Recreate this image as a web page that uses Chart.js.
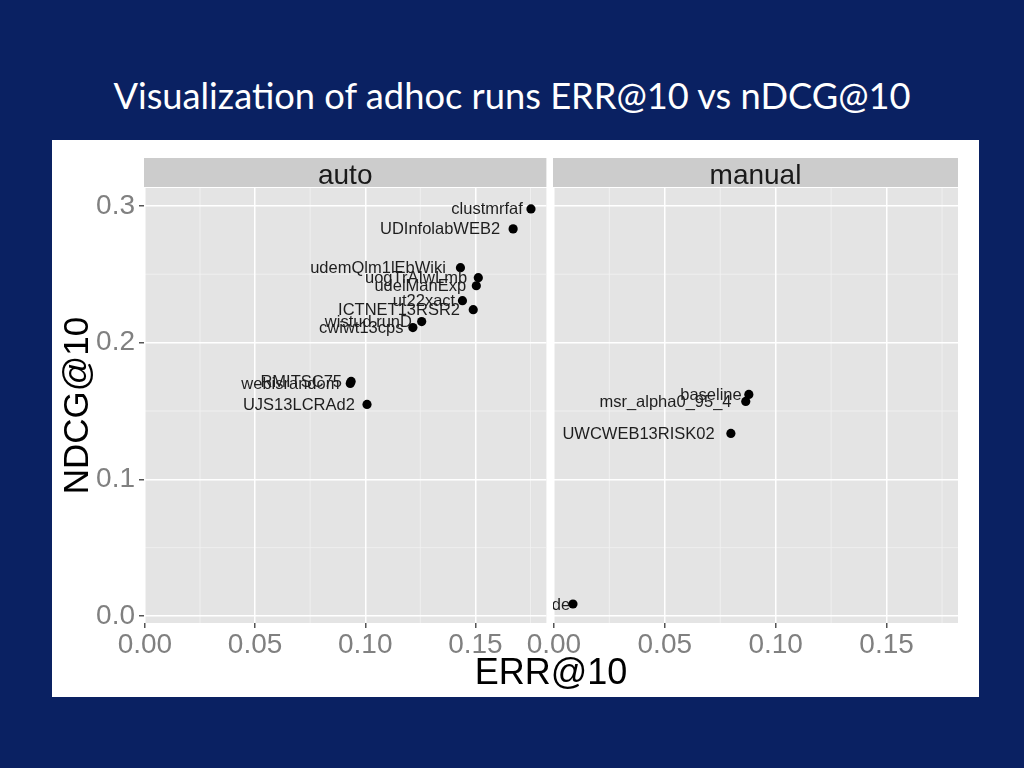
<!DOCTYPE html>
<html>
<head>
<meta charset="utf-8">
<script src="https://cdn.jsdelivr.net/npm/chart.js@4.4.1/dist/chart.umd.min.js"></script>
<style>
  html, body { margin: 0; padding: 0; }
  body { width: 1024px; height: 768px; background: #0a2162; position: relative; overflow: hidden; }
  #title { position: absolute; left: 0; width: 1024px; text-align: center; color: #ffffff;
           font-family: Lato, "Open Sans", sans-serif; white-space: nowrap; }
  #plotbox { position: absolute; left: 52px; top: 140px; width: 927px; height: 557px; background: #ffffff; }
  #xtitle { position: absolute; left: 351px; width: 400px; top: 654px; text-align: center;
            font-family: "Liberation Sans", Arial, sans-serif; font-size: 36px; line-height: 36px; color: #000; }
</style>
</head>
<body>
<div id="title">Visualization of adhoc runs ERR@10 vs nDCG@10</div>
<div id="plotbox"></div>
<div style="position:absolute;left:52px;top:140px;width:499px;height:557px;"><canvas id="cA" style="position:absolute;left:0;top:0"></canvas></div>
<div style="position:absolute;left:500px;top:140px;width:479px;height:557px;"><canvas id="cB" style="position:absolute;left:0;top:0"></canvas></div>
<div id="xtitle">ERR@10</div>
<script>
// ---- data ----
const panels = ['auto', 'manual'];
const autoRuns = ['clustmrfaf','UDInfolabWEB2','udemQlm1lEbWiki','uogTrAIwLmb','udelManExp','ut22xact','ICTNET13RSR2','wistud.runD','cwiwt13cps','RMITSC75','webisrandom','UJS13LCRAd2'];
const autoERR  = [0.1752,0.1671,0.1432,0.1513,0.1504,0.1441,0.1490,0.1256,0.1216,0.0936,0.0932,0.1008];
const autoNDCG = [0.2978,0.2832,0.2548,0.2475,0.2416,0.2307,0.2241,0.2154,0.2110,0.1716,0.1701,0.1548];
const manualRuns = ['baseline','msr_alpha0_95_4','UWCWEB13RISK02','de'];
const manualERR  = [0.0879,0.0865,0.0798,0.0086];
const manualNDCG = [0.1621,0.1570,0.1336,0.0088];
const xTicks = [0.00, 0.05, 0.10, 0.15];
const xTickLabels = ['0.00','0.05','0.10','0.15'];
const yTicks = [0.0, 0.1, 0.2, 0.3];
const yTickLabels = ['0.0','0.1','0.2','0.3'];
const xMinor = [0.025, 0.075, 0.125, 0.175];
const yMinor = [0.05, 0.15, 0.25];
const xRange = [-0.0004, 0.1822];
const yRange = [-0.0051, 0.3131];
const xTitle = 'ERR@10';
const yTitle = 'NDCG@10';

// ---- title sizing ----
(function(){
  const t = document.getElementById('title');
  const c = document.createElement('canvas').getContext('2d');
  c.font = '40px Lato';
  const w = c.measureText(t.textContent).width;
  const fs = 40 * 799 / w;
  t.style.fontSize = fs + 'px';
  t.style.lineHeight = fs + 'px';
  const contentH = 1.2 * fs;
  t.style.top = (109 - ((fs - contentH)/2 + 0.987*fs)) + 'px';
})();

const PANEL_BG = '#e4e4e4';
const STRIP_BG = '#cccccc';
const TICK_COLOR = '#808080';
const FONT = '"Liberation Sans", Arial, sans-serif';

const facetPlugin = {
  id: 'facet',
  beforeDraw(chart, args, opts) {
    const {ctx, chartArea: a, scales: {x, y}} = chart;
    ctx.save();
    ctx.fillStyle = PANEL_BG;
    ctx.fillRect(a.left, a.top, a.right - a.left, a.bottom - a.top);
    ctx.fillStyle = STRIP_BG;
    ctx.fillRect(a.left, a.top - 30, a.right - a.left, 29);
    ctx.fillStyle = '#1a1a1a';
    ctx.font = '28px ' + FONT;
    ctx.textAlign = 'center';
    ctx.textBaseline = 'alphabetic';
    ctx.fillText(opts.label, (a.left + a.right) / 2, a.top - 4);
    ctx.strokeStyle = '#f2f2f2';
    ctx.lineWidth = 0.8;
    ctx.beginPath();
    xMinor.forEach(v => { const px = x.getPixelForValue(v); if (px >= a.left && px <= a.right) { ctx.moveTo(px, a.top); ctx.lineTo(px, a.bottom); } });
    yMinor.forEach(v => { const py = y.getPixelForValue(v); ctx.moveTo(a.left, py); ctx.lineTo(a.right, py); });
    ctx.stroke();
    ctx.restore();
  },
  afterDatasetsDraw(chart, args, opts) {
    const {ctx, chartArea: a} = chart;
    const meta = chart.getDatasetMeta(0);
    ctx.save();
    ctx.beginPath();
    ctx.rect(a.left, a.top, a.right - a.left, a.bottom - a.top);
    ctx.clip();
    ctx.font = '16.5px ' + FONT;
    ctx.fillStyle = '#1e1e1e';
    ctx.textAlign = 'right';
    ctx.textBaseline = 'middle';
    meta.data.forEach((pt, i) => {
      const lab = opts.labels[i];
      const w = ctx.measureText(lab).width;
      ctx.fillText(lab, pt.x - 0.1 * w - 1, pt.y + 1);
    });
    ctx.restore();
  }
};

function makeChart(id, w, h, label, runs, xs, ys, showY, padding, target) {
  const cv = document.getElementById(id);
  cv.width = w; cv.height = h;
  cv.style.width = w + 'px'; cv.style.height = h + 'px';
  const chart = new Chart(cv, {
    type: 'scatter',
    data: { datasets: [{ data: xs.map((v, i) => ({x: v, y: ys[i]})), pointRadius: 4.6, pointHoverRadius: 4.6,
                         backgroundColor: '#000', borderWidth: 0 }] },
    options: {
      responsive: false, animation: false, devicePixelRatio: 1,
      layout: { padding: padding },
      plugins: { legend: {display: false}, tooltip: {enabled: false}, facet: { label: label, labels: runs } },
      scales: {
        x: {
          type: 'linear', min: xRange[0], max: xRange[1],
          afterBuildTicks: s => { s.ticks = xTicks.map(v => ({value: v})); },
          afterFit: s => { s.height = 74; s.paddingLeft = 0; s.paddingRight = 0; },
          ticks: { autoSkip: false, maxRotation: 0, minRotation: 0, padding: 0, color: TICK_COLOR,
                   font: { family: FONT, size: 28 }, callback: (v, i) => xTickLabels[i] },
          grid: { color: '#ffffff', lineWidth: 1.5, drawTicks: true, tickLength: 5, tickColor: '#555' },
          border: { display: false }
        },
        y: {
          type: 'linear', min: yRange[0], max: yRange[1],
          afterBuildTicks: s => { s.ticks = yTicks.map(v => ({value: v})); },
          afterFit: s => { s.width = showY ? 92 : 0; s.paddingTop = 0; s.paddingBottom = 0; },
          ticks: { display: showY, padding: 4, color: TICK_COLOR, font: { family: FONT, size: 28 },
                   callback: (v, i) => yTickLabels[i] },
          grid: { color: '#ffffff', lineWidth: 1.5, drawTicks: showY, tickLength: 5, tickColor: '#555' },
          border: { display: false },
          title: { display: showY, text: yTitle, color: '#000', font: { family: FONT, size: 35, lineHeight: 1.2 },
                   padding: { top: 5, bottom: 0 } }
        }
      }
    },
    plugins: [facetPlugin]
  });
  for (let k = 0; k < 3; k++) {
    const a = chart.chartArea;
    const p = chart.options.layout.padding;
    const dl = target.left - a.left, dr = a.right - target.right, dt = target.top - a.top, db = a.bottom - target.bottom;
    if (Math.abs(dl) < 0.5 && Math.abs(dr) < 0.5 && Math.abs(dt) < 0.5 && Math.abs(db) < 0.5) break;
    p.left = (p.left || 0) + dl; p.right = (p.right || 0) + dr;
    p.top = (p.top || 0) + dt; p.bottom = (p.bottom || 0) + db;
    chart.update();
  }
  return chart;
}

makeChart('cA', 499, 557, panels[0], autoRuns, autoERR, autoNDCG, true,
          {top: 48, right: 2, left: 0, bottom: 0}, {left: 92, right: 497, top: 48, bottom: 483});
makeChart('cB', 479, 557, panels[1], manualRuns, manualERR, manualNDCG, false,
          {top: 48, right: 21, left: 53, bottom: 0}, {left: 53, right: 458, top: 48, bottom: 483});
document.getElementById('xtitle').textContent = xTitle;
</script>
</body>
</html>
